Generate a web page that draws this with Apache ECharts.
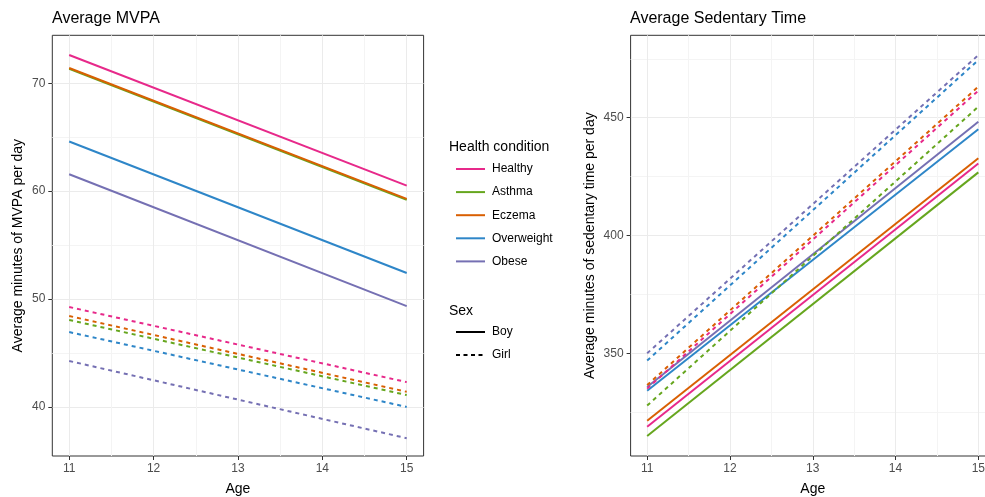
<!DOCTYPE html>
<html>
<head>
<meta charset="utf-8">
<script src="https://cdn.jsdelivr.net/npm/echarts@6/dist/echarts.min.js"></script>
<style>
html,body{margin:0;padding:0;background:#fff;}
#chart{width:985px;height:497px;}
</style>
</head>
<body>
<div id="chart"></div>
<script>
// ---------- data ----------
var ages = [11, 15];
var conditions = ['Healthy', 'Asthma', 'Eczema', 'Overweight', 'Obese'];
var sexes = ['Boy', 'Girl'];
var colors = ['#E7298A', '#66A61E', '#D95F02', '#2E86C8', '#7570B3'];

// MVPA (minutes/day) at ages 11 and 15
var mvpaBoy  = [[72.62, 60.52], [71.35, 59.20], [71.42, 59.29], [64.60, 52.41], [61.57, 49.35]];
var mvpaGirl = [[49.26, 42.30], [48.06, 41.10], [48.43, 41.40], [46.94, 40.00], [44.26, 37.10]];

// Sedentary time (minutes/day) at ages 11 and 15
var sedBoy  = [[318.8, 430.6], [314.9, 426.8], [321.4, 432.8], [334.1, 445.1], [335.7, 448.3]];
var sedGirl = [[335.0, 461.5], [327.8, 454.7], [336.5, 463.2], [346.9, 474.5], [350.0, 476.6]];

var ageTicks = [11, 12, 13, 14, 15];
var ageMinor = [11.5, 12.5, 13.5, 14.5];
var mvpaTicks = [40, 50, 60, 70];
var mvpaMinor = [45, 55, 65];
var sedTicks = [350, 400, 450];
var sedMinor = [325, 375, 425, 475];

// ---------- chart ----------
var FONT = '"Liberation Sans", Arial, sans-serif';
var chart = echarts.init(document.getElementById('chart'), null, {renderer: 'canvas'});

function mainX(grid) {
  return {
    type: 'value', gridIndex: grid, min: 10.8, max: 15.2, position: 'bottom',
    name: 'Age', nameLocation: 'middle', nameGap: 26,
    nameTextStyle: {fontSize: 14, color: '#000', fontFamily: FONT},
    axisLine: {show: false},
    axisTick: {show: true, customValues: ageTicks, length: 4, lineStyle: {color: '#333', width: 1}},
    axisLabel: {customValues: ageTicks, color: '#4D4D4D', fontSize: 12, margin: 7, fontFamily: FONT},
    splitLine: {show: true, lineStyle: {color: '#EBEBEB', width: 1}}
  };
}
function minorX(grid) {
  return {
    type: 'value', gridIndex: grid, min: 10.8, max: 15.2, position: 'top',
    axisLine: {show: false},
    axisTick: {show: false, customValues: ageMinor},
    axisLabel: {show: false, customValues: ageMinor},
    splitLine: {show: true, lineStyle: {color: '#F4F4F4', width: 1}}
  };
}
function mainY(grid, min, max, ticks, name, gap) {
  return {
    type: 'value', gridIndex: grid, min: min, max: max, position: 'left',
    name: name, nameLocation: 'middle', nameGap: gap, nameRotate: 90,
    nameTextStyle: {fontSize: 14, color: '#000', fontFamily: FONT},
    axisLine: {show: false},
    axisTick: {show: true, customValues: ticks, length: 4, lineStyle: {color: '#333', width: 1}},
    axisLabel: {customValues: ticks, color: '#4D4D4D', fontSize: 12, margin: 7, fontFamily: FONT},
    splitLine: {show: true, lineStyle: {color: '#EBEBEB', width: 1}}
  };
}
function minorY(grid, min, max, ticks) {
  return {
    type: 'value', gridIndex: grid, min: min, max: max, position: 'right',
    axisLine: {show: false},
    axisTick: {show: false, customValues: ticks},
    axisLabel: {show: false, customValues: ticks},
    splitLine: {show: true, lineStyle: {color: '#F4F4F4', width: 1}}
  };
}

var series = [];
function addPanel(boyVals, girlVals, xIdx, yIdx, tag) {
  [['Boy', boyVals, 'solid'], ['Girl', girlVals, [4, 4]]].forEach(function (s) {
    conditions.forEach(function (c, i) {
      series.push({
        name: c + ' ' + s[0] + ' ' + tag,
        type: 'line', xAxisIndex: xIdx, yAxisIndex: yIdx,
        symbol: 'none', silent: true, animation: false, z: 3,
        lineStyle: {color: colors[i], width: 2, type: s[2]},
        data: ages.map(function (a, k) { return [a, s[1][i][k]]; })
      });
    });
  });
}
addPanel(mvpaBoy, mvpaGirl, 0, 0, 'MVPA');
addPanel(sedBoy, sedGirl, 2, 2, 'Sedentary');

// legend-only series
conditions.forEach(function (c, i) {
  series.push({name: c, type: 'line', xAxisIndex: 0, yAxisIndex: 0, symbol: 'none',
    lineStyle: {color: colors[i], width: 2, type: 'solid'}, data: []});
});
series.push({name: 'Boy', type: 'line', xAxisIndex: 0, yAxisIndex: 0, symbol: 'none',
  lineStyle: {color: '#000', width: 2, type: 'solid'}, data: []});
series.push({name: 'Girl', type: 'line', xAxisIndex: 0, yAxisIndex: 0, symbol: 'none',
  lineStyle: {color: '#000', width: 2, type: [4, 3.5]}, data: []});

var titleStyle = {fontSize: 16, fontWeight: 'normal', color: '#000', fontFamily: FONT};
var legTitleStyle = {fontSize: 14, fontWeight: 'normal', color: '#000', fontFamily: FONT};
var legItemStyle = {opacity: 0, color: 'transparent', borderWidth: 0};

chart.setOption({
  backgroundColor: '#fff',
  animation: false,
  textStyle: {fontFamily: FONT},
  title: [
    {text: 'Average MVPA', left: 52, top: 11, padding: 0, textStyle: titleStyle},
    {text: 'Average Sedentary Time', left: 630, top: 11, padding: 0, textStyle: titleStyle},
    {text: 'Health condition', left: 449, top: 140, padding: 0, textStyle: legTitleStyle},
    {text: 'Sex', left: 449, top: 304, padding: 0, textStyle: legTitleStyle}
  ],
  legend: [
    {data: conditions, orient: 'vertical', left: 455, top: 163, padding: 0,
     itemWidth: 29, itemHeight: 14, itemGap: 11.1, selectedMode: false,
     itemStyle: legItemStyle,
     textStyle: {fontSize: 12, color: '#000', fontFamily: FONT, padding: [0, 0, 0, 2]}},
    {data: sexes, orient: 'vertical', left: 455, top: 326, padding: 0,
     itemWidth: 29, itemHeight: 14, itemGap: 11.1, selectedMode: false,
     itemStyle: legItemStyle,
     textStyle: {fontSize: 12, color: '#000', fontFamily: FONT, padding: [0, 0, 0, 2]}}
  ],
  grid: [
    {left: 52.3, top: 35.3, width: 371.3, height: 420.7, show: true, outerBoundsMode: 'none',
     borderColor: '#333', borderWidth: 1, backgroundColor: '#fff', containLabel: false},
    {left: 630.6, top: 35.3, width: 364.3, height: 420.7, show: true, outerBoundsMode: 'none',
     borderColor: '#333', borderWidth: 1, backgroundColor: '#fff', containLabel: false}
  ],
  xAxis: [mainX(0), minorX(0), mainX(1), minorX(1)],
  yAxis: [
    mainY(0, 35.45, 74.45, mvpaTicks, 'Average minutes of MVPA per day', 27),
    minorY(0, 35.45, 74.45, mvpaMinor),
    mainY(1, 306.4, 485.0, sedTicks, 'Average minutes of sedentary time per day', 33),
    minorY(1, 306.4, 485.0, sedMinor)
  ],
  series: series
});
</script>
</body>
</html>
